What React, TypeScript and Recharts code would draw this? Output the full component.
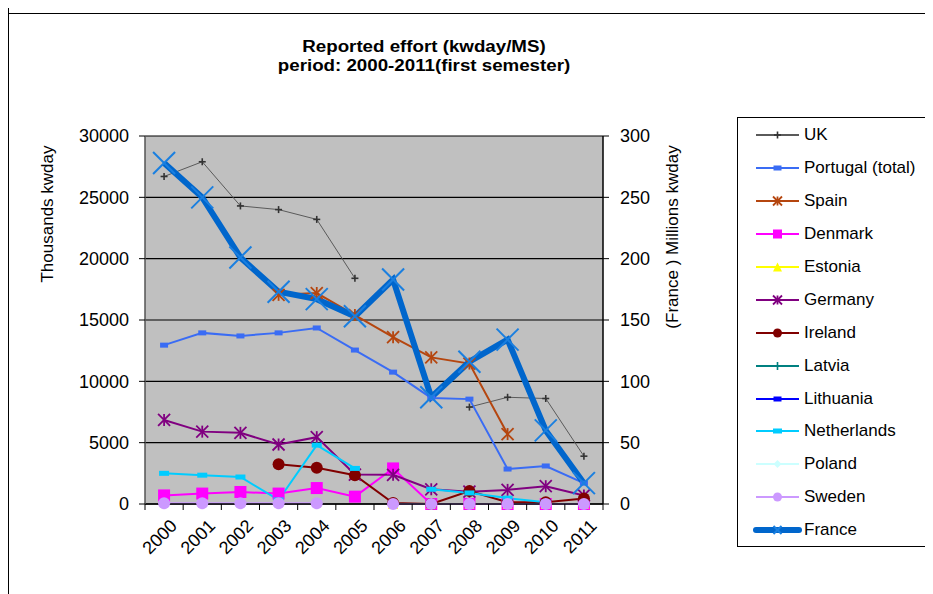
import React from "react";
import { LineChart, Line, XAxis, YAxis, CartesianGrid } from "recharts";

// categories
const years = ["2000", "2001", "2002", "2003", "2004", "2005", "2006", "2007", "2008", "2009", "2010", "2011"];

// Thousands kwday (left axis)
const uk = [26700, 27900, 24300, 24000, 23200, 18400, null, null, 7900, 8700, 8600, 3900];
const portugal = [12950, 13950, 13700, 13950, 14350, 12550, 10750, 8650, 8550, 2850, 3100, 1700];
const spain = [null, null, null, 17050, 17200, 15400, 13600, 11950, 11450, 5700, null, null];
const denmark = [700, 850, 980, 850, 1300, 600, 2900, 0, 0, 0, 0, 0];
const estonia = [null, null, null, null, null, null, 0, 0, 0, 0, 0, 0];
const germany = [6850, 5900, 5800, 4850, 5450, 2400, 2380, 1200, 1000, 1150, 1450, 700];
const ireland = [null, null, null, 3250, 2950, 2350, 80, 0, 1050, 150, 150, 450];
const latvia = [null, null, null, null, null, null, 0, 0, 0, 0, 0, 0];
const lithuania = [null, null, null, null, null, null, 0, 0, 0, 0, 0, 0];
const netherlands = [2500, 2350, 2200, 330, 4800, 2900, null, 1200, 900, 480, 150, null];
const poland = [null, null, null, null, null, null, 0, 0, 0, 0, 0, 0];
const sweden = [60, 60, 60, 60, 60, null, 0, 0, 0, 0, 0, 0];

// Millions kwday (right axis)
const france = [278, 250, 201, 173, 167, 153, 183, 87, 116, 134, 60, 17];

const leftTicks = [0, 5000, 10000, 15000, 20000, 25000, 30000];
const rightTicks = [0, 50, 100, 150, 200, 250, 300];
// whole numbers = category boundaries (tick marks), halves = category centres (labels)
const xTicks = years.flatMap((_, i) => [i, i + 0.5]).concat(years.length);

type MarkerKind = "plus" | "dash" | "star" | "square" | "triangle" | "circle" | "diamond" | "x";

interface SeriesDef {
  key: string;
  name: string;
  values: (number | null)[];
  color: string;
  markerColor: string;
  width: number;
  marker: MarkerKind;
  size: number;
  axis: "left" | "right";
}

const series: SeriesDef[] = [
  { key: "uk", name: "UK", values: uk, color: "#5a5a5a", markerColor: "#333333", width: 1, marker: "plus", size: 7, axis: "left" },
  { key: "portugal", name: "Portugal (total)", values: portugal, color: "#3a6cf4", markerColor: "#3a6cf4", width: 2, marker: "dash", size: 8, axis: "left" },
  { key: "spain", name: "Spain", values: spain, color: "#b5460f", markerColor: "#b5460f", width: 2, marker: "star", size: 12, axis: "left" },
  { key: "denmark", name: "Denmark", values: denmark, color: "#ff00ff", markerColor: "#ff00ff", width: 2, marker: "square", size: 12, axis: "left" },
  { key: "estonia", name: "Estonia", values: estonia, color: "#ffff00", markerColor: "#ffff00", width: 2, marker: "triangle", size: 10, axis: "left" },
  { key: "germany", name: "Germany", values: germany, color: "#800080", markerColor: "#800080", width: 2, marker: "star", size: 12, axis: "left" },
  { key: "ireland", name: "Ireland", values: ireland, color: "#800000", markerColor: "#800000", width: 2, marker: "circle", size: 12, axis: "left" },
  { key: "latvia", name: "Latvia", values: latvia, color: "#008080", markerColor: "#008080", width: 2, marker: "plus", size: 8, axis: "left" },
  { key: "lithuania", name: "Lithuania", values: lithuania, color: "#0000ff", markerColor: "#0000ff", width: 2, marker: "dash", size: 8, axis: "left" },
  { key: "netherlands", name: "Netherlands", values: netherlands, color: "#00ccff", markerColor: "#00ccff", width: 2, marker: "dash", size: 10, axis: "left" },
  { key: "poland", name: "Poland", values: poland, color: "#ccffff", markerColor: "#ccffff", width: 2, marker: "diamond", size: 8, axis: "left" },
  { key: "sweden", name: "Sweden", values: sweden, color: "#cc99ff", markerColor: "#cc99ff", width: 2, marker: "circle", size: 12, axis: "left" },
  { key: "france", name: "France", values: france, color: "#0066cc", markerColor: "#1a7fe0", width: 6, marker: "x", size: 22, axis: "right" },
];

const data = years.map((year, i) => {
  const row: Record<string, string | number | null> = { year, slot: i + 0.5 };
  series.forEach((s) => {
    row[s.key] = s.values[i];
  });
  return row;
});

const FONT = "'Liberation Sans', Arial, sans-serif";

function Marker({ kind, x, y, color, size }: { kind: MarkerKind; x: number; y: number; color: string; size: number }) {
  const h = size / 2;
  switch (kind) {
    case "plus":
      return (
        <g stroke={color} strokeWidth={1.6}>
          <line x1={x - h} y1={y} x2={x + h} y2={y} />
          <line x1={x} y1={y - h} x2={x} y2={y + h} />
        </g>
      );
    case "dash":
      return <rect x={x - h} y={y - 2.5} width={size} height={5} fill={color} />;
    case "star":
      return (
        <g stroke={color} strokeWidth={1.8}>
          <line x1={x - h} y1={y - h} x2={x + h} y2={y + h} />
          <line x1={x - h} y1={y + h} x2={x + h} y2={y - h} />
          <line x1={x} y1={y - h} x2={x} y2={y + h} />
        </g>
      );
    case "square":
      return <rect x={x - h} y={y - h} width={size} height={size} fill={color} />;
    case "triangle":
      return <polygon points={`${x},${y - h} ${x + h},${y + h} ${x - h},${y + h}`} fill={color} />;
    case "circle":
      return <circle cx={x} cy={y} r={h} fill={color} />;
    case "diamond":
      return <polygon points={`${x},${y - h} ${x + h},${y} ${x},${y + h} ${x - h},${y}`} fill={color} />;
    case "x":
      return (
        <g stroke={color} strokeWidth={2}>
          <line x1={x - h} y1={y - h} x2={x + h} y2={y + h} />
          <line x1={x - h} y1={y + h} x2={x + h} y2={y - h} />
        </g>
      );
  }
  return null;
}

const makeDot = (s: SeriesDef) => (props: any) => {
  const { cx, cy, index, value } = props;
  if (cx == null || cy == null || value == null) return <g key={`${s.key}-${index}`} />;
  return (
    <g key={`${s.key}-${index}`}>
      <Marker kind={s.marker} x={cx} y={cy} color={s.markerColor} size={s.size} />
    </g>
  );
};

const YearTick = (props: any) => {
  const { x, y, payload } = props;
  const v = payload.value as number;
  if (Number.isInteger(v)) {
    return <line x1={x} y1={y} x2={x} y2={y + 6} stroke="#000" strokeWidth={1} />;
  }
  return (
    <g transform={`translate(${x + 5},${y + 14})`}>
      <text textAnchor="end" transform="rotate(-45)" fontSize={18} fill="#000" fontFamily={FONT} dy="0.71em">
        {years[Math.floor(v)]}
      </text>
    </g>
  );
};

const LegendBox = () => (
  <div
    style={{
      position: "absolute",
      left: 728,
      top: 109,
      width: 191,
      height: 430,
      border: "1px solid #000",
      background: "#fff",
      fontFamily: FONT,
      fontSize: 17,
      color: "#000",
      boxSizing: "border-box",
      paddingTop: 1,
    }}
  >
    {series.map((s) => (
      <div key={s.key} style={{ display: "flex", alignItems: "center", height: 32.9 }}>
        <svg width={66} height={20} style={{ flex: "none" }}>
          <line x1={18} y1={10} x2={61} y2={10} stroke={s.color} strokeWidth={s.key === "france" ? 6 : 2} strokeLinecap={s.key === "france" ? "round" : "butt"} />
          <Marker kind={s.marker} x={39.5} y={10} color={s.markerColor} size={s.key === "france" ? 8 : Math.min(s.size, 9)} />
        </svg>
        <span style={{ whiteSpace: "nowrap" }}>{s.name}</span>
      </div>
    ))}
  </div>
);

export default function App() {
  return (
    <div
      style={{
        position: "relative",
        width: 925,
        height: 586,
        borderLeft: "1px solid #000",
        boxSizing: "border-box",
        background: "#fff",
      }}
    >
      {/* chart-area frame top edge */}
      <div style={{ position: "absolute", left: -1, top: 5, width: 926, height: 0, borderTop: "1.5px solid #000" }} />
      <div
        style={{
          position: "absolute",
          left: 0,
          top: 30,
          width: 830,
          textAlign: "center",
          fontFamily: FONT,
          fontWeight: "bold",
          fontSize: 16,
          lineHeight: "18.5px",
          color: "#000",
          transform: "scaleX(1.17)",
          transformOrigin: "415px 0",
        }}
      >
        Reported effort (kwday/MS)
        <br />
        period: 2000-2011(first semester)
      </div>
      <div
        style={{
          position: "absolute",
          left: 39,
          top: 206,
          transform: "translate(-50%, -50%) rotate(-90deg)",
          fontFamily: FONT,
          fontSize: 17,
          color: "#000",
          whiteSpace: "nowrap",
        }}
      >
        Thousands kwday
      </div>
      <div
        style={{
          position: "absolute",
          left: 664,
          top: 229,
          transform: "translate(-50%, -50%) rotate(-90deg)",
          fontFamily: FONT,
          fontSize: 17,
          color: "#000",
          whiteSpace: "nowrap",
        }}
      >
        (France ) Millions kwday
      </div>
      <div style={{ position: "absolute", left: 0, top: 0 }}>
        <LineChart width={924} height={585} data={data} margin={{ top: 128, right: 270, bottom: 29, left: 20 }}>
          <CartesianGrid yAxisId="left" vertical={false} fill="#c0c0c0" stroke="#000" strokeWidth={1.2} />
          <XAxis
            dataKey="slot"
            type="number"
            domain={[0, years.length]}
            ticks={xTicks}
            interval={0}
            tick={<YearTick />}
            tickLine={false}
            tickSize={0}
            tickMargin={0}
            axisLine={{ stroke: "#000", strokeWidth: 1.5 }}
            height={60}
          />
          <YAxis
            yAxisId="left"
            domain={[0, 30000]}
            ticks={leftTicks}
            width={116}
            tickSize={6}
            tickMargin={10}
            axisLine={{ stroke: "#555", strokeWidth: 1.5 }}
            tickLine={{ stroke: "#000" }}
            tick={{ fill: "#000", fontSize: 18, fontFamily: FONT }}
          />
          <YAxis
            yAxisId="right"
            orientation="right"
            domain={[0, 300]}
            ticks={rightTicks}
            width={60}
            tickSize={6}
            tickMargin={11}
            axisLine={{ stroke: "#000", strokeWidth: 1.5 }}
            tickLine={{ stroke: "#000" }}
            tick={{ fill: "#000", fontSize: 18, fontFamily: FONT, textAnchor: "start" }}
          />
          {series.map((s) => (
            <Line
              key={s.key}
              yAxisId={s.axis}
              type="linear"
              dataKey={s.key}
              name={s.name}
              stroke={s.color}
              strokeWidth={s.width}
              dot={makeDot(s)}
              activeDot={false}
              isAnimationActive={false}
            />
          ))}
        </LineChart>
      </div>
      <LegendBox />
    </div>
  );
}
